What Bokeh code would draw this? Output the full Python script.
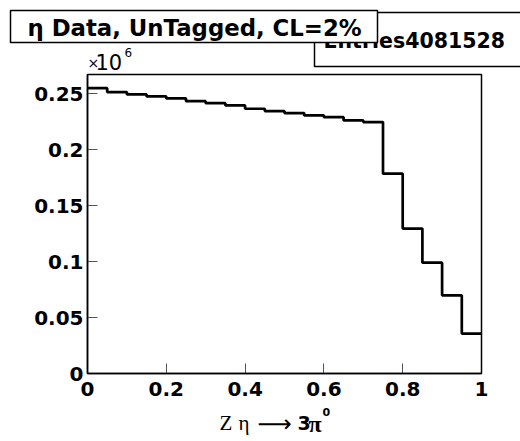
from bokeh.plotting import figure
from bokeh.models import Range1d, FixedTicker, Label, BoxAnnotation
from bokeh.embed import file_html
from bokeh.resources import INLINE

# ---- data ----
bin_edges = [0.0, 0.05, 0.10, 0.15, 0.20, 0.25, 0.30, 0.35, 0.40, 0.45, 0.50,
             0.55, 0.60, 0.65, 0.70, 0.75, 0.80, 0.85, 0.90, 0.95, 1.0]
bin_counts = [255000, 251500, 249400, 247600, 245800, 243400, 241600, 239600,
              236600, 234500, 232700, 230600, 229100, 226200, 224700,
              178600, 129500, 99000, 69900, 35700]
x_ticks = [0.0, 0.2, 0.4, 0.6, 0.8, 1.0]
x_tick_labels = ["0", "0.2", "0.4", "0.6", "0.8", "1"]
y_ticks = [0, 50000, 100000, 150000, 200000, 250000]
y_tick_labels = ["0", "0.05", "0.1", "0.15", "0.2", "0.25"]
x_min, x_max = 0.0, 1.0
y_min, y_max = 0, 267200
title_text = "η Data, UnTagged, CL=2%"
entries_text = "Entries4081528"

# ---- layout (pixels) ----
W, H = 520, 441
FL, FR, FT, FB = 87, 481, 74, 373   # data-frame box in page pixels
sx = (x_max - x_min) / (FR - FL)
sy = (y_max - y_min) / (FB - FT)
x_range = Range1d(x_min - FL * sx, x_max + (W - FR) * sx)
y_range = Range1d(y_min - (H - FB) * sy, y_max + FT * sy)

BOLD = "DejaVu Sans"
SERIF = "Liberation Serif"

p = figure(frame_width=W, frame_height=H, min_border=0,
           output_backend="svg", toolbar_location=None,
           x_range=x_range, y_range=y_range)
p.grid.visible = False
p.outline_line_color = None
p.background_fill_color = "white"
p.border_fill_color = "white"

# histogram
step_y = bin_counts + [bin_counts[-1]]
p.step(x=bin_edges, y=step_y, mode="after", line_color="black", line_width=2.7)

# axes
for ax, ticks, labels, loc, bnds in ((p.xaxis[0], x_ticks, x_tick_labels, y_min, (x_min, x_max)),
                                      (p.yaxis[0], y_ticks, y_tick_labels, x_min, (y_min, y_max))):
    ax.fixed_location = loc
    ax.bounds = bnds
    ax.ticker = FixedTicker(ticks=ticks, minor_ticks=[])
    ax.major_label_overrides = {t: l for t, l in zip(ticks, labels)}
    ax.major_tick_in = 10
    ax.major_tick_out = 0
    ax.minor_tick_in = 0
    ax.minor_tick_out = 0
    ax.major_tick_line_color = "#555555"
    ax.major_tick_line_width = 1
    ax.axis_line_color = "black"
    ax.axis_line_width = 1.5
    ax.major_label_text_font = BOLD
    ax.major_label_text_font_style = "bold"
    ax.major_label_text_font_size = "20px"
    ax.major_label_text_color = "black"
p.xaxis.major_label_standoff = 8
p.yaxis.major_label_standoff = 4

# data frame box
p.add_layout(BoxAnnotation(left=x_min, right=x_max, bottom=y_min, top=y_max,
                           fill_alpha=0, line_color="black", line_alpha=1.0,
                           line_width=1.5))

def box(l, r, t, b):
    return BoxAnnotation(left=l, right=r, top=H - t, bottom=H - b,
                         left_units="screen", right_units="screen",
                         top_units="screen", bottom_units="screen",
                         fill_color="white", fill_alpha=1.0,
                         line_color="black", line_alpha=1.0, line_width=1.5,
                         level="overlay")

def lab(x, y, text, font, size, style="normal", baseline="middle"):
    return Label(x=x, y=H - y, x_units="screen", y_units="screen", text=text,
                 text_font=font, text_font_size=size, text_font_style=style,
                 text_baseline=baseline, text_color="black", level="overlay")

# stats box (partially hidden)
p.add_layout(box(314, 545, 12, 66))
p.add_layout(lab(323, 40, entries_text, BOLD, "20.5px", "bold"))
# title box
p.add_layout(box(10, 377, 10, 42))
p.add_layout(lab(27, 27, title_text, BOLD, "22.8px", "bold"))

# exponent
p.add_layout(lab(87, 62, "×", "DejaVu Sans", "14px"))
p.add_layout(lab(95, 61, "10", "DejaVu Sans", "21px"))
p.add_layout(lab(124, 52, "6", "DejaVu Sans", "12px"))

# x axis title
p.add_layout(lab(219, 422, "Z", SERIF, "21px"))
p.add_layout(lab(238, 422, "η", SERIF, "21px"))
p.add_layout(lab(257, 423, "⟶", "DejaVu Sans", "24px"))
p.add_layout(lab(297, 422, "3", "DejaVu Sans", "19px", "bold"))
p.add_layout(lab(308, 423, "π", SERIF, "24px", "bold"))
p.add_layout(lab(322, 411, "0", "DejaVu Sans", "11px", "bold"))

open("out.html", "w").write(file_html(p, INLINE))
